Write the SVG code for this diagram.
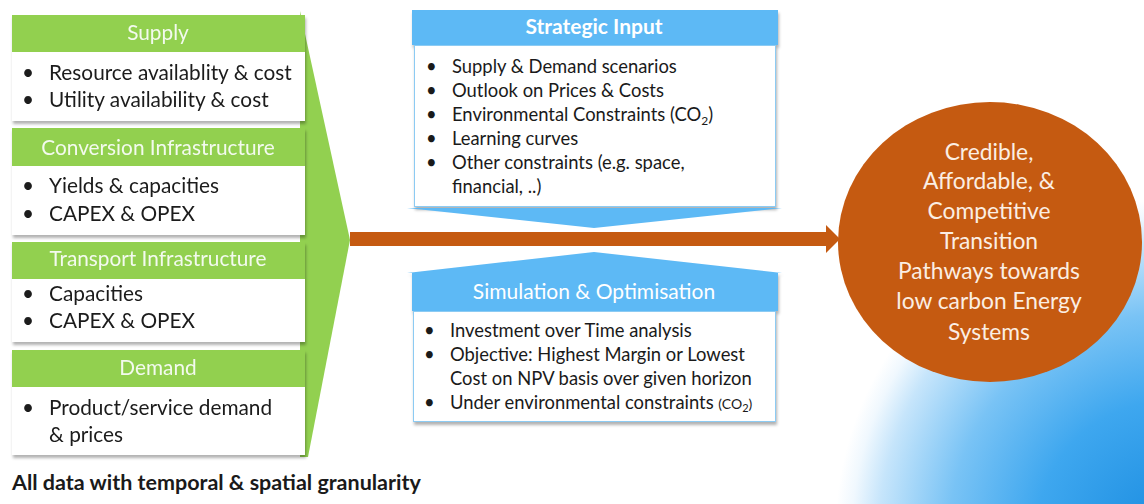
<svg xmlns="http://www.w3.org/2000/svg" width="1144" height="504" viewBox="0 0 1144 504">
<defs>
<style>
.hdr{fill:#92D050}
.box{fill:#ffffff}
.bhdr{fill:#5DB9F5}
.bbox{fill:#ffffff;stroke:#8ccbf3;stroke-width:1}
.t{font-family:Lato,"Liberation Sans",sans-serif;fill:#1a1a1a}
.lt{font-size:20.8px}
.ht{font-family:Lato,"Liberation Sans",sans-serif;font-size:20.8px;fill:#f3faee;text-anchor:middle}
.ct{font-size:18.4px}
.wt{font-family:Lato,"Liberation Sans",sans-serif;font-size:22.8px;fill:#fbeee3;text-anchor:middle}
</style>
<filter id="sh" x="-5%" y="-10%" width="110%" height="125%">
<feDropShadow dx="1" dy="3" stdDeviation="1.5" flood-color="#000" flood-opacity="0.3"/>
</filter>
<radialGradient id="bg" gradientUnits="userSpaceOnUse" cx="1170" cy="535" r="335">
<stop offset="0" stop-color="#1a8ce0"/>
<stop offset="0.4" stop-color="#3ea7ef"/>
<stop offset="0.66" stop-color="#79c3f5"/>
<stop offset="0.87" stop-color="#c6e5fb"/>
<stop offset="0.95" stop-color="#f0f8fe"/>
<stop offset="1" stop-color="#ffffff"/>
</radialGradient>
<marker id="ah" markerUnits="userSpaceOnUse" markerWidth="15" markerHeight="28" refX="0" refY="14" orient="auto" viewBox="0 0 15 28">
<path d="M0,0 L14,14 L0,28 z" fill="#C55A11"/>
</marker>
</defs>

<rect x="780" y="180" width="364" height="324" fill="url(#bg)"/>

<g id="left-funnel">
<polygon class="hdr" points="300,11 350,240 308,457 300,457"/>
</g>

<g id="supply" filter="url(#sh)">
<rect class="hdr" x="12" y="15" width="293" height="37"/>
<rect class="box" x="12" y="52" width="293" height="69"/>
<text class="ht" x="158" y="40">Supply</text>
<text class="t lt" x="22" y="80">•</text><text class="t lt" x="49" y="80">Resource availablity &amp; cost</text>
<text class="t lt" x="22" y="107">•</text><text class="t lt" x="49" y="107">Utility availability &amp; cost</text>
</g>

<g id="conversion" filter="url(#sh)">
<rect class="hdr" x="12" y="128" width="293" height="38"/>
<rect class="box" x="12" y="166" width="293" height="69"/>
<text class="ht" x="158" y="155">Conversion Infrastructure</text>
<text class="t lt" x="22" y="193">•</text><text class="t lt" x="49" y="193">Yields &amp; capacities</text>
<text class="t lt" x="22" y="221">•</text><text class="t lt" x="49" y="221">CAPEX &amp; OPEX</text>
</g>

<g id="transport" filter="url(#sh)">
<rect class="hdr" x="12" y="242" width="293" height="37"/>
<rect class="box" x="12" y="279" width="293" height="63"/>
<text class="ht" x="158" y="266">Transport Infrastructure</text>
<text class="t lt" x="22" y="301">•</text><text class="t lt" x="49" y="301">Capacities</text>
<text class="t lt" x="22" y="328">•</text><text class="t lt" x="49" y="328">CAPEX &amp; OPEX</text>
</g>

<g id="demand" filter="url(#sh)">
<rect class="hdr" x="12" y="350" width="293" height="37"/>
<rect class="box" x="12" y="387" width="293" height="68"/>
<text class="ht" x="158" y="375">Demand</text>
<text class="t lt" x="22" y="415">•</text><text class="t lt" x="49" y="415">Product/service demand</text>
<text class="t lt" x="49" y="442">&amp; prices</text>
</g>

<g id="footnote">
<text class="t" x="12" y="490" font-size="21.5" font-weight="bold">All data with temporal &amp; spatial granularity</text>
</g>

<g id="strategic-input">
<g filter="url(#sh)">
<rect class="bhdr" x="412" y="10" width="366" height="35"/>
<rect class="bbox" x="414.5" y="45.5" width="361" height="161"/>
</g>
<polygon class="bhdr" points="407,208 782,208 594,228"/>
<text x="594" y="34" font-family="Lato,'Liberation Sans',sans-serif" font-size="21" font-weight="bold" fill="#ffffff" text-anchor="middle">Strategic Input</text>
<text class="t ct" x="426" y="73">•</text><text class="t ct" x="452" y="73">Supply &amp; Demand scenarios</text>
<text class="t ct" x="426" y="97">•</text><text class="t ct" x="452" y="97">Outlook on Prices &amp; Costs</text>
<text class="t ct" x="426" y="121">•</text><text class="t ct" x="452" y="121">Environmental Constraints (CO<tspan font-size="12" dy="4">2</tspan><tspan dy="-4">)</tspan></text>
<text class="t ct" x="426" y="145">•</text><text class="t ct" x="452" y="145">Learning curves</text>
<text class="t ct" x="426" y="169">•</text><text class="t ct" x="452" y="169">Other constraints (e.g. space,</text>
<text class="t ct" x="452" y="193">financial, ..)</text>
</g>

<g id="simulation">
<g filter="url(#sh)">
<polygon class="bhdr" points="407,273 594,252 782,273 778,273 778,311 412,311 412,273"/>
<rect class="bbox" x="413.5" y="311.5" width="362" height="110"/>
</g>
<text x="594" y="299" font-family="Lato,'Liberation Sans',sans-serif" font-size="21" fill="#ffffff" text-anchor="middle">Simulation &amp; Optimisation</text>
<text class="t ct" x="424" y="337">•</text><text class="t ct" x="450" y="337">Investment over Time analysis</text>
<text class="t ct" x="424" y="361">•</text><text class="t ct" x="450" y="361">Objective: Highest Margin or Lowest</text>
<text class="t ct" x="450" y="385">Cost on NPV basis over given horizon</text>
<text class="t ct" x="424" y="409">•</text><text class="t ct" x="450" y="409">Under environmental constraints <tspan font-size="14">(CO</tspan><tspan font-size="11" dy="3">2</tspan><tspan font-size="14" dy="-3">)</tspan></text>
</g>

<g id="connectors">
<line x1="350" y1="239" x2="826" y2="239" stroke="#C55A11" stroke-width="14" marker-end="url(#ah)"/>
</g>

<g id="outcome">
<ellipse cx="990" cy="242" rx="152" ry="140" fill="#C55A11"/>
<text class="wt" x="989" y="160">Credible,</text>
<text class="wt" x="989" y="189">Affordable, &amp;</text>
<text class="wt" x="989" y="219">Competitive</text>
<text class="wt" x="989" y="249">Transition</text>
<text class="wt" x="989" y="279">Pathways towards</text>
<text class="wt" x="989" y="309">low carbon Energy</text>
<text class="wt" x="989" y="340">Systems</text>
</g>
</svg>
